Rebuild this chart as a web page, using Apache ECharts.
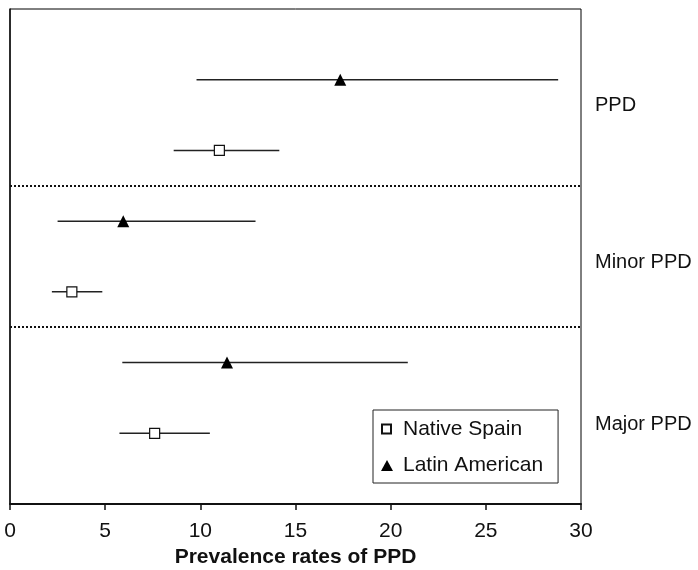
<!DOCTYPE html>
<html>
<head>
<meta charset="utf-8">
<script src="https://cdn.jsdelivr.net/npm/echarts@6/dist/echarts.min.js"></script>
<style>html,body{margin:0;padding:0;background:#fff}#c{width:698px;height:570px}</style>
</head>
<body>
<div id="c"></div>
<script>
var groups = ['PPD', 'Minor PPD', 'Major PPD'];
var groupLabelRow = [5.64, 3.41, 1.12];
var separatorRows = [4.5, 2.5];
var nativeRow = [5, 3, 1];
var latinRow = [6, 4, 2];
var nativeMean = [11.0, 3.25, 7.6];
var nativeLow = [8.6, 2.2, 5.75];
var nativeHigh = [14.15, 4.85, 10.5];
var latinMean = [17.35, 5.95, 11.4];
var latinLow = [9.8, 2.5, 5.9];
var latinHigh = [28.8, 12.9, 20.9];
var xTicks = [0, 5, 10, 15, 20, 25, 30];

var FONT = '"Liberation Sans", Arial, Helvetica, sans-serif';

function bars(row, low, high) {
  return row.map(function (r, i) { return [low[i], high[i], r]; });
}
function pts(row, mean) {
  return row.map(function (r, i) { return [mean[i], r]; });
}
function renderBar(params, api) {
  var a = api.coord([api.value(0), api.value(2)]);
  var b = api.coord([api.value(1), api.value(2)]);
  return {
    type: 'line',
    shape: { x1: a[0], y1: a[1], x2: b[0], y2: b[1] },
    style: { stroke: '#222', lineWidth: 1.5 }
  };
}

var chart = echarts.init(document.getElementById('c'), null, { renderer: 'canvas' });
chart.setOption({
  animation: false,
  textStyle: { fontFamily: FONT },
  grid: {
    left: 10, right: 117, top: 9, bottom: 66, show: true, borderColor: '#000', borderWidth: 1,
    containLabel: false, outerBoundsMode: 'none'
  },
  xAxis: {
    type: 'value', min: xTicks[0], max: xTicks[xTicks.length - 1], interval: 5,
    axisLine: { show: true, lineStyle: { color: '#111', width: 2 } },
    axisTick: { show: true, length: 6, inside: false, lineStyle: { color: '#111', width: 1.5 } },
    axisLabel: { fontSize: 21, color: '#111', margin: 17, fontFamily: FONT },
    splitLine: { show: false },
    name: 'Prevalence rates of PPD', nameLocation: 'middle', nameGap: 42,
    nameTextStyle: { fontSize: 21, fontWeight: 'bold', color: '#111', fontFamily: FONT }
  },
  yAxis: {
    type: 'value', min: 0, max: 7,
    axisLine: { show: true, lineStyle: { color: '#111', width: 1.5 } },
    axisTick: { show: false }, axisLabel: { show: false }, splitLine: { show: false }
  },
  legend: {
    data: [
      { name: 'Native Spain', icon: 'path://M0,0M17,12M1,1.5h9v9h-9z' },
      { name: 'Latin American', icon: 'path://M0,0M17,12M0,12L6,1L12,12z' }
    ],
    orient: 'vertical', left: 373, top: 410,
    padding: [8, 15, 7, 7], itemGap: 14,
    itemWidth: 17, itemHeight: 12,
    backgroundColor: '#fff', borderColor: '#222', borderWidth: 1, borderRadius: 0,
    textStyle: { fontSize: 21, color: '#111', lineHeight: 22, fontFamily: FONT },
    selectedMode: false
  },
  series: [
    {
      type: 'custom', name: 'nativeBars', renderItem: renderBar,
      data: bars(nativeRow, nativeLow, nativeHigh), encode: { x: [0, 1], y: 2 }, silent: true, z: 2,
      markLine: {
        silent: true, symbol: 'none', label: { show: false },
        lineStyle: { color: '#111', type: [2, 2], width: 2 },
        data: separatorRows.map(function (v) { return { yAxis: v }; })
      }
    },
    {
      type: 'custom', name: 'latinBars', renderItem: renderBar,
      data: bars(latinRow, latinLow, latinHigh), encode: { x: [0, 1], y: 2 }, silent: true, z: 2
    },
    {
      type: 'scatter', name: 'Native Spain', symbol: 'rect', symbolSize: 10,
      itemStyle: { color: '#fff', borderColor: '#111', borderWidth: 1.2, opacity: 1 },
      data: pts(nativeRow, nativeMean), z: 5
    },
    {
      type: 'scatter', name: 'Latin American', symbol: 'triangle', symbolSize: [12, 12],
      itemStyle: { color: '#000', opacity: 1 },
      data: pts(latinRow, latinMean), z: 5
    },
    {
      type: 'scatter', name: 'groupLabels', symbolSize: 0, silent: true,
      itemStyle: { opacity: 1, color: '#111' },
      data: groups.map(function (g, i) { return [xTicks[xTicks.length - 1], groupLabelRow[i], g]; }),
      label: {
        show: true, position: 'right', distance: 14, fontSize: 20, color: '#111', fontFamily: FONT,
        formatter: function (p) { return p.data[2]; }
      }
    }
  ]
});
</script>
</body>
</html>
